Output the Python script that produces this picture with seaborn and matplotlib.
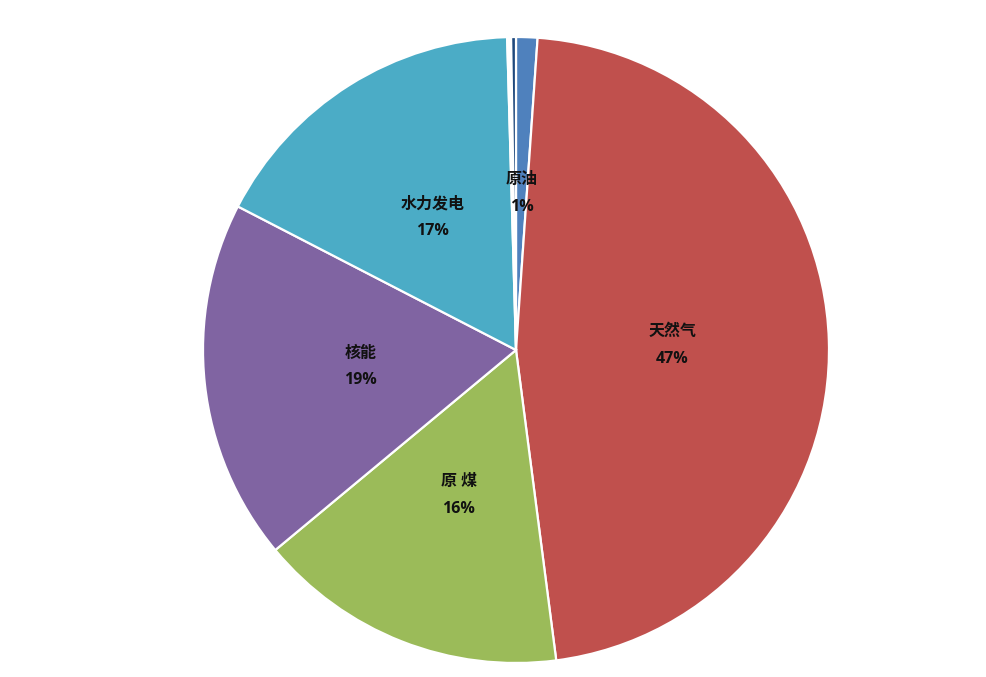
import matplotlib
matplotlib.use("Agg")
import matplotlib.pyplot as plt
import seaborn as sns
import numpy as np

categories = ["原油", "天然气", "原 煤", "核能", "水力发电", "", "其他"]
values = [1.1, 46.8, 16.0, 18.6, 16.95, 0.2, 0.25]
pct_labels = ["1%", "47%", "16%", "19%", "17%", "", ""]
colors = ["#4F81BD", "#C0504D", "#9BBB59", "#8064A2", "#4BACC6", "#FFFFFF", "#1F497D"]

sns.set_theme(style="white")
plt.rcParams['font.family'] = ['Open Sans', 'Noto Sans CJK SC', 'DejaVu Sans']

fig = plt.figure(figsize=(9.86, 6.77), dpi=100)
ax = fig.add_axes([(516 - 313) / 986, (327 - 313) / 677, 626 / 986, 626 / 677])
wedges, _ = ax.pie(values, colors=colors, startangle=90, counterclock=False,
                   radius=1.0, wedgeprops=dict(edgecolor="white", linewidth=1.6))
ax.set_xlim(-1, 1)
ax.set_ylim(-1, 1)
ax.set_aspect("equal")
ax.axis("off")

for w, name, pct in zip(wedges, categories, pct_labels):
    if not pct:
        continue
    ang = np.deg2rad((w.theta1 + w.theta2) / 2)
    r = 0.5
    x, y = r * np.cos(ang), r * np.sin(ang)
    ax.text(x, y, f"{name}\n{pct}", ha="center", va="center", fontsize=11.5,
            fontweight="bold", color="#111111", linespacing=1.9)

fig.savefig("out.png", dpi=100, facecolor="white")
